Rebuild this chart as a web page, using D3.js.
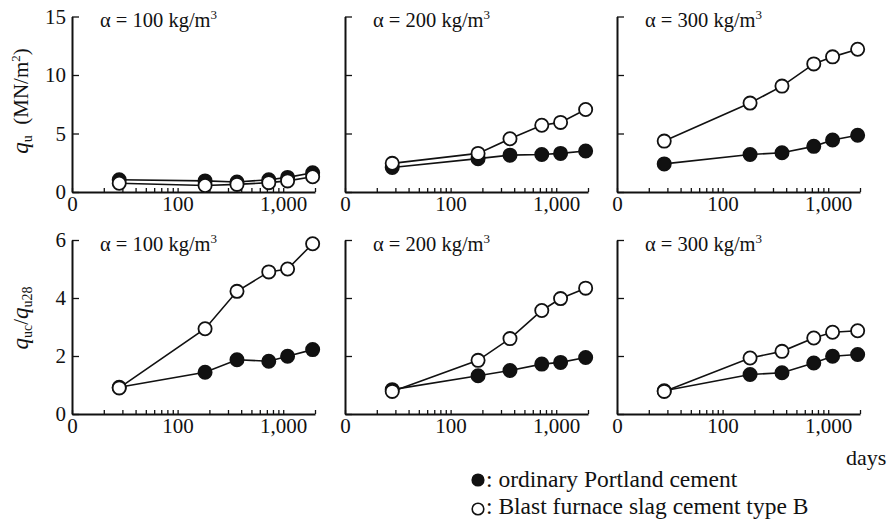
<!DOCTYPE html>
<html>
<head>
<meta charset="utf-8">
<script src="https://cdn.jsdelivr.net/npm/d3@7"></script>
</head>
<body style="margin:0">
<div id="chart"></div>
<script>
// Chart size
const width = 891, height = 523;
const serif = "'Liberation Serif', 'Times New Roman', serif";

// Data: curing age (days) shared by all panels
const days = [28, 182, 365, 730, 1100, 1900];
const alphas = ["100", "200", "300"];

// q_u (MN/m2), one array per alpha panel
const quOPC = [
    [1.05, 0.95, 0.85, 1.05, 1.25, 1.65],
    [2.1, 2.85, 3.15, 3.2, 3.3, 3.5],
    [2.4, 3.2, 3.35, 3.9, 4.45, 4.85]
];
const quBB = [
    [0.75, 0.55, 0.65, 0.8, 0.95, 1.3],
    [2.45, 3.3, 4.55, 5.7, 5.95, 7.05],
    [4.35, 7.6, 9.05, 10.95, 11.55, 12.2]
];

// q_uc / q_u28
const ratioOPC = [
    [0.92, 1.44, 1.87, 1.82, 1.99, 2.22],
    [0.84, 1.32, 1.5, 1.72, 1.78, 1.95],
    [0.8, 1.36, 1.42, 1.76, 1.99, 2.05]
];
const ratioBB = [
    [0.9, 2.94, 4.23, 4.9, 5.0, 5.87],
    [0.78, 1.85, 2.6, 3.57, 3.98, 4.34],
    [0.78, 1.93, 2.16, 2.62, 2.82, 2.87]
];

// Axis ticks
const xMinor = [10, 20, 30, 40, 50, 60, 70, 80, 90, 100, 200, 300, 400, 500, 600, 700, 800, 900, 1000, 2000];
const xLabels = new Map([[10, "0"], [100, "100"], [1000, "1,000"]]);
const quTicks = [0, 5, 10, 15];
const ratioTicks = [0, 2, 4, 6];

// Panel layout
const colX = [72, 345, 617];
const panelW = 243;
const rows = [
    { y0: 192, yTop: 16.5, max: 15, ticks: quTicks, opc: quOPC, bb: quBB },
    { y0: 414, yTop: 240, max: 6, ticks: ratioTicks, opc: ratioOPC, bb: ratioBB }
];

const svg = d3.select("#chart").append("svg").attr("width", width).attr("height", height);

const x = d3.scaleLog().domain([10, 2000]).range([0, panelW]);

rows.forEach((row, r) => {
    const y = d3.scaleLinear().domain([0, row.max]).range([row.y0, row.yTop]);

    colX.forEach((cx, c) => {
        const g = svg.append("g").attr("transform", `translate(${cx},0)`);

        // x axis (log, ticks pointing up)
        const xAxis = g.append("g")
            .attr("transform", `translate(0,${row.y0})`)
            .call(d3.axisBottom(x).tickValues(xMinor)
                .tickFormat(d => xLabels.get(d) || "")
                .tickSizeInner(-4).tickSizeOuter(0).tickPadding(4));

        // y axis (ticks pointing in)
        const yAxis = g.append("g")
            .call(d3.axisLeft(y).tickValues(row.ticks)
                .tickFormat(d => c === 0 ? d : "")
                .tickSizeInner(-7).tickSizeOuter(0).tickPadding(6));

        [xAxis, yAxis].forEach(a => {
            a.attr("font-family", serif).attr("font-size", 21);
            a.select(".domain").attr("stroke", "#111").attr("stroke-width", 2);
            a.selectAll(".tick line").attr("stroke", "#111").attr("stroke-width", 1.3);
            a.selectAll("text").attr("fill", "#111").style("font-family", serif).style("font-size", "21px");
        });

        // Panel label
        const lab = g.append("text").attr("x", 28).attr("y", row.yTop + 10.5)
            .attr("fill", "#111").style("font-family", serif).style("font-size", "20.5px");
        lab.append("tspan").text(`\u03b1 = ${alphas[c]} kg/m`);
        lab.append("tspan").attr("dy", -8).style("font-size", "13px").text("3");

        // Series lines and markers
        const line = d3.line().x((d, i) => x(days[i])).y(d => y(d));
        const series = [
            { vals: row.opc[c], fill: "#111" },
            { vals: row.bb[c], fill: "#fff" }
        ];
        series.forEach(s => {
            g.append("path").datum(s.vals)
                .attr("fill", "none").attr("stroke", "#111").attr("stroke-width", 1.6)
                .attr("d", line);
            g.selectAll(null).data(s.vals).enter().append("circle")
                .attr("cx", (d, i) => x(days[i]))
                .attr("cy", d => y(d))
                .attr("r", 6.6)
                .attr("fill", s.fill)
                .attr("stroke", "#111").attr("stroke-width", 1.8);
        });
    });
});

// Y axis titles
const t1 = svg.append("text").attr("transform", "translate(28,101) rotate(-90)")
    .attr("text-anchor", "middle").attr("fill", "#111")
    .style("font-family", serif).style("font-size", "21px");
t1.append("tspan").style("font-style", "italic").style("font-size", "23px").text("q");
t1.append("tspan").attr("dy", 4).style("font-size", "14px").text("u");
t1.append("tspan").attr("dy", -4).text("\u2002(MN/m");
t1.append("tspan").attr("dy", -8).style("font-size", "13px").text("2");
t1.append("tspan").attr("dy", 8).text(")");

const t2 = svg.append("text").attr("transform", "translate(28,318) rotate(-90)")
    .attr("text-anchor", "middle").attr("fill", "#111")
    .style("font-family", serif).style("font-size", "21px");
t2.append("tspan").style("font-style", "italic").style("font-size", "23px").text("q");
t2.append("tspan").attr("dy", 4).style("font-size", "14px").text("uc");
t2.append("tspan").attr("dy", -4).text("/");
t2.append("tspan").style("font-style", "italic").style("font-size", "23px").text("q");
t2.append("tspan").attr("dy", 4).style("font-size", "14px").text("u28");

// x axis unit
svg.append("text").attr("x", 846).attr("y", 465).attr("fill", "#111")
    .style("font-family", serif).style("font-size", "22px").text("days");

// Legend
const legendItems = [
    { fill: "#111", label: ": ordinary Portland cement" },
    { fill: "#fff", label: ": Blast furnace slag cement type B" }
];
const legend = svg.append("g");
legendItems.forEach((d, i) => {
    legend.append("circle").attr("cx", 478).attr("cy", 480 + i * 29).attr("r", 5.8)
        .attr("fill", d.fill).attr("stroke", "#111").attr("stroke-width", 1.6);
    legend.append("text").attr("x", 486).attr("y", 487 + i * 27).attr("fill", "#111")
        .style("font-family", serif).style("font-size", "23.5px").text(d.label);
});
</script>
</body>
</html>
